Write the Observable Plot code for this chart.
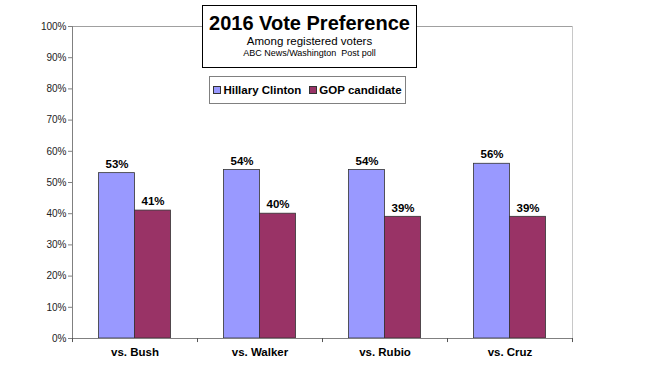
<!DOCTYPE html>
<html>
<head>
<meta charset="utf-8">
<script src="https://cdn.jsdelivr.net/npm/d3@7"></script>
<script src="https://cdn.jsdelivr.net/npm/@observablehq/plot@0.6"></script>
<style>
  html, body { margin: 0; padding: 0; background: #fff; }
  #wrap { position: relative; width: 655px; height: 381px; font-family: "Liberation Sans", Arial, sans-serif; }
  #titlebox { position: absolute; left: 202px; top: 5px; width: 213px; height: 61px; border: 1px solid #000; background: #fff; text-align: center; }
  #titlebox .t { font-size: 20px; font-weight: bold; margin-top: 6px; line-height: 22px; }
  #titlebox .s1 { font-size: 11.5px; line-height: 13px; margin-top: 1px; }
  #titlebox .s2 { font-size: 9px; line-height: 11px; }
  #legend { position: absolute; left: 209px; top: 76px; width: 195px; height: 26px; border: 1px solid #808080; background: #fff; display: flex; align-items: center; justify-content: center; gap: 8px; font-size: 11.5px; font-weight: bold; }
  #legend .sw { display: inline-block; width: 6px; height: 6px; border: 1px solid #333; margin-right: 2px; vertical-align: middle; position: relative; top: -1px; }
</style>
</head>
<body>
<div id="wrap"></div>
<script>
const categories = ["vs. Bush", "vs. Walker", "vs. Rubio", "vs. Cruz"];
const clinton = [0.53, 0.54, 0.54, 0.56];
const gop = [0.41, 0.40, 0.39, 0.39];
const seriesNames = ["Hillary Clinton", "GOP candidate"];
const yTicks = [0, 0.1, 0.2, 0.3, 0.4, 0.5, 0.6, 0.7, 0.8, 0.9, 1.0];

const colors = ["#9999FF", "#993366"];
const clintonData = categories.map((c, i) => ({cat: c, value: clinton[i]}));
const gopData = categories.map((c, i) => ({cat: c, value: gop[i]}));
const fmt = d3.format(".0%");

const chart = Plot.plot({
  width: 655,
  height: 381,
  marginLeft: 72,
  marginRight: 83,
  marginTop: 26,
  marginBottom: 43,
  style: {fontFamily: '"Liberation Sans", Arial, sans-serif', background: "#fff"},
  x: {domain: categories, padding: 0, axis: null},
  y: {domain: [0, 1], axis: null},
  marks: [
    // top and right plot border
    Plot.ruleY([1], {stroke: "#a0a0a0", strokeWidth: 1}),
    Plot.ruleX([categories[categories.length - 1]], {dx: 62.5, y1: 0, y2: 1, stroke: "#c8c8c8"}),
    // bars
    Plot.barY(clintonData, {x: "cat", y: "value", fill: colors[0], stroke: "#333", strokeWidth: 0.8, insetLeft: 26.5, insetRight: 62.5}),
    Plot.barY(gopData, {x: "cat", y: "value", fill: colors[1], stroke: "#333", strokeWidth: 0.8, insetLeft: 62.5, insetRight: 26.5}),
    // value labels
    Plot.text(clintonData, {x: "cat", y: "value", text: d => fmt(d.value), dx: -18, dy: -9, fontWeight: "bold", fontSize: 11.5, fill: "#000"}),
    Plot.text(gopData, {x: "cat", y: "value", text: d => fmt(d.value), dx: 18, dy: -9, fontWeight: "bold", fontSize: 11.5, fill: "#000"}),
    // y axis
    Plot.ruleX([categories[0]], {dx: -62.5, y1: 0, y2: 1, stroke: "#808080"}),
    Plot.axisY({ticks: yTicks, tickFormat: fmt, tickSize: 4, tickPadding: 2, fontSize: 10, color: "#222", stroke: "#808080", tickStrokeOpacity: 1, label: null}),
    // x axis
    Plot.ruleY([0], {stroke: "#808080", strokeWidth: 1.2}),
    Plot.ruleX(categories, {x: d => d, dx: -62.5, y1: 0, y2: -0.013, stroke: "#555"}),
    Plot.ruleX([categories[categories.length - 1]], {dx: 62.5, y1: 0, y2: -0.013, stroke: "#555"}),
    Plot.axisX({tickSize: 0, tickPadding: 9, fontSize: 11.5, fontWeight: "bold", color: "#000", label: null})
  ]
});

const wrap = document.getElementById("wrap");
wrap.appendChild(chart);

const tb = document.createElement("div");
tb.id = "titlebox";
tb.innerHTML = '<div class="t">2016 Vote Preference</div><div class="s1">Among registered voters</div><div class="s2">ABC News/Washington&nbsp; Post poll</div>';
wrap.appendChild(tb);

const lg = document.createElement("div");
lg.id = "legend";
lg.innerHTML = seriesNames.map((n, i) => `<span><span class="sw" style="background:${colors[i]}"></span>${n}</span>`).join("");
wrap.appendChild(lg);
</script>
</body>
</html>
